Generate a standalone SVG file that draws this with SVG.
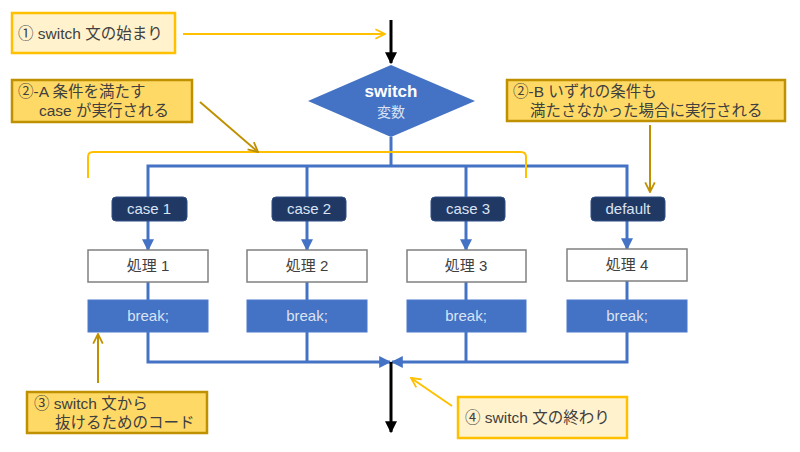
<svg xmlns="http://www.w3.org/2000/svg" width="800" height="452" viewBox="0 0 800 452">
<style>
text{font-family:"Liberation Sans","Noto Sans CJK JP",sans-serif;}
.note{font-size:15.5px;fill:#404040;}
.light{fill:#FFF2CC;stroke:#FFC000;stroke-width:2.5;}
.dark{fill:#FFD966;stroke:#BF9000;stroke-width:2.5;}
.case rect{fill:#203864;stroke:#2F4E86;stroke-width:1;}
.case text{font-size:15px;fill:#DAE3F3;text-anchor:middle;}
.proc rect{fill:#FFFFFF;stroke:#808080;stroke-width:1.5;}
.proc text{font-size:15px;fill:#404040;text-anchor:middle;}
.brk rect{fill:#4472C4;stroke:#4A7ACB;stroke-width:1;}
.brk text{font-size:15px;fill:#DAE3F3;text-anchor:middle;}
.blue{stroke:#4472C4;stroke-width:3;fill:none;}
.blk{stroke:#000;stroke-width:3;fill:none;}
.ya{stroke:#FFC000;stroke-width:2;fill:none;}
.da{stroke:#BF9000;stroke-width:2;fill:none;}
</style>
<defs>
<marker id="mb" viewBox="0 0 10 10" refX="9" refY="5" markerWidth="4" markerHeight="4" orient="auto" markerUnits="strokeWidth"><path d="M0,0 L10,5 L0,10 z" fill="#4472C4"/></marker>
<marker id="mk" viewBox="0 0 10 10" refX="9" refY="5" markerWidth="4" markerHeight="4" orient="auto" markerUnits="strokeWidth"><path d="M0,0 L10,5 L0,10 z" fill="#000"/></marker>
<marker id="my" viewBox="0 0 10 10" refX="9" refY="5" markerWidth="6" markerHeight="6" orient="auto" markerUnits="strokeWidth"><path d="M1,1 L9,5 L1,9" fill="none" stroke="#FFC000" stroke-width="1.5"/></marker>
<marker id="md" viewBox="0 0 10 10" refX="9" refY="5" markerWidth="6" markerHeight="6" orient="auto" markerUnits="strokeWidth"><path d="M1,1 L9,5 L1,9" fill="none" stroke="#BF9000" stroke-width="1.5"/></marker>
</defs>

<g id="connectors">
<line class="blk" x1="391" y1="20" x2="391" y2="63" marker-end="url(#mk)"/>
<polyline class="blue" points="391,137 391,166"/>
<polyline class="blue" points="148,197 148,166 627,166 627,197"/>
<line class="blue" x1="307" y1="166" x2="307" y2="197"/>
<line class="blue" x1="466" y1="166" x2="466" y2="197"/>
<line class="blue" x1="148" y1="221" x2="148" y2="250" marker-end="url(#mb)"/>
<line class="blue" x1="307" y1="221" x2="307" y2="250" marker-end="url(#mb)"/>
<line class="blue" x1="466" y1="221" x2="466" y2="250" marker-end="url(#mb)"/>
<line class="blue" x1="627" y1="221" x2="627" y2="249" marker-end="url(#mb)"/>
<line class="blue" x1="148" y1="282" x2="148" y2="300"/>
<line class="blue" x1="307" y1="282" x2="307" y2="300"/>
<line class="blue" x1="466" y1="282" x2="466" y2="300"/>
<line class="blue" x1="627" y1="281" x2="627" y2="300"/>
<polyline class="blue" points="148,332 148,362 390,362" marker-end="url(#mb)"/>
<polyline class="blue" points="627,332 627,362 392,362" marker-end="url(#mb)"/>
<line class="blue" x1="307" y1="332" x2="307" y2="362"/>
<line class="blue" x1="466" y1="332" x2="466" y2="362"/>
<line class="blk" x1="391" y1="362" x2="391" y2="432" marker-end="url(#mk)"/>
<path d="M88,178 L88,157 Q88,152 93,152 L521,152 Q526,152 526,157 L526,178" fill="none" stroke="#FFC000" stroke-width="2"/>
<line class="ya" x1="183" y1="34" x2="385" y2="34" marker-end="url(#my)"/>
<line class="da" x1="200" y1="102" x2="258" y2="152" marker-end="url(#md)"/>
<line class="da" x1="650" y1="125" x2="650" y2="192" marker-end="url(#md)"/>
<line class="da" x1="98" y1="383" x2="98" y2="334" marker-end="url(#md)"/>
<line class="ya" x1="452" y1="406" x2="411" y2="378" marker-end="url(#my)"/>
</g>

<g id="switch">
<polygon points="391,65 475,101 391,137 308,101" fill="#4472C4"/>
<text x="391" y="97" text-anchor="middle" font-size="17" font-weight="bold" fill="#FFFFFF">switch</text>
<text x="391" y="117" text-anchor="middle" font-size="14" fill="#DAE3F3">変数</text>
</g>

<g id="case1" class="case"><rect x="112" y="197" width="75" height="24" rx="4"/><text x="149" y="214">case 1</text></g>
<g id="case2" class="case"><rect x="272" y="197" width="74" height="24" rx="4"/><text x="309" y="214">case 2</text></g>
<g id="case3" class="case"><rect x="431" y="197" width="74" height="24" rx="4"/><text x="468" y="214">case 3</text></g>
<g id="default" class="case"><rect x="591" y="197" width="74" height="24" rx="4"/><text x="628" y="214">default</text></g>

<g id="proc1" class="proc"><rect x="88" y="250" width="120" height="32"/><text x="148" y="271">処理 1</text></g>
<g id="proc2" class="proc"><rect x="247" y="250" width="120" height="32"/><text x="307" y="271">処理 2</text></g>
<g id="proc3" class="proc"><rect x="407" y="250" width="119" height="32"/><text x="466" y="271">処理 3</text></g>
<g id="proc4" class="proc"><rect x="567" y="249" width="120" height="32"/><text x="627" y="270">処理 4</text></g>

<g id="break1" class="brk"><rect x="88" y="300" width="120" height="32"/><text x="148" y="321">break;</text></g>
<g id="break2" class="brk"><rect x="247" y="300" width="120" height="32"/><text x="307" y="321">break;</text></g>
<g id="break3" class="brk"><rect x="407" y="300" width="119" height="32"/><text x="466" y="321">break;</text></g>
<g id="break4" class="brk"><rect x="567" y="300" width="120" height="32"/><text x="627" y="321">break;</text></g>

<g id="note1"><rect class="light" x="12" y="13" width="163" height="40"/><text class="note" x="18" y="39">① switch 文の始まり</text></g>
<g id="note2a"><rect class="dark" x="12" y="80" width="180" height="42"/><text class="note" x="18" y="97">②-A 条件を満たす</text><text class="note" x="39" y="116">case が実行される</text></g>
<g id="note2b"><rect class="dark" x="507" y="80" width="278" height="41"/><text class="note" x="513" y="97">②-B いずれの条件も</text><text class="note" x="530" y="116">満たさなかった場合に実行される</text></g>
<g id="note3"><rect class="dark" x="27" y="392" width="180" height="41"/><text class="note" x="34" y="409">③ switch 文から</text><text class="note" x="55" y="428">抜けるためのコード</text></g>
<g id="note4"><rect class="light" x="458" y="397" width="169" height="41"/><text class="note" x="465" y="423">④ switch 文の終わり</text></g>
</svg>
